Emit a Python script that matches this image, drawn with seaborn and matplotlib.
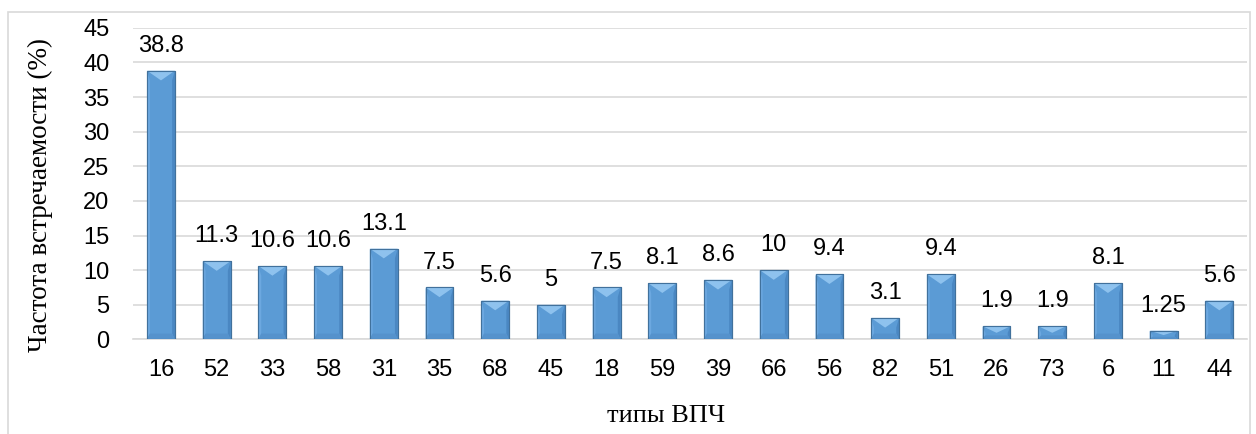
import matplotlib
matplotlib.use("Agg")
import matplotlib.pyplot as plt
import matplotlib.patches as mpatches
import numpy as np
import pandas as pd
import seaborn as sns

hpv_types = ["16", "52", "33", "58", "31", "35", "68", "45", "18", "59",
             "39", "66", "56", "82", "51", "26", "73", "6", "11", "44"]
frequency = [38.8, 11.3, 10.6, 10.6, 13.1, 7.5, 5.6, 5, 7.5, 8.1,
             8.6, 10, 9.4, 3.1, 9.4, 1.9, 1.9, 8.1, 1.25, 5.6]
value_labels = ["38.8", "11.3", "10.6", "10.6", "13.1", "7.5", "5.6", "5", "7.5", "8.1",
                "8.6", "10", "9.4", "3.1", "9.4", "1.9", "1.9", "8.1", "1.25", "5.6"]

df = pd.DataFrame({"type": hpv_types, "freq": frequency})

sns.set_theme(style="white")
plt.rcParams["font.family"] = ["Liberation Sans", "DejaVu Sans"]

fig = plt.figure(figsize=(12.56, 4.34), dpi=100)
ax = fig.add_axes([0.106, 0.218, 0.887, 0.718])

sns.barplot(data=df, x="type", y="freq", color="#5B9BD5", width=0.5,
            edgecolor="#41719C", linewidth=0.8, saturation=1, ax=ax, zorder=3)

# bevelled look: lighter left side, darker right side, chevron-shaped top facet
for p in list(ax.patches):
    x0, y0 = p.get_x(), p.get_y()
    w, h = p.get_width(), p.get_height()
    bx = w * 0.10
    by = min(h * 0.5, 1.4)
    ax.add_patch(mpatches.Polygon([(x0, y0), (x0 + bx, y0 + by * 0.6), (x0 + bx, y0 + h - by), (x0, y0 + h)],
                                  closed=True, facecolor="#6CA8E0", edgecolor="none", zorder=4))
    ax.add_patch(mpatches.Polygon([(x0 + w, y0), (x0 + w - bx, y0 + by * 0.6), (x0 + w - bx, y0 + h - by), (x0 + w, y0 + h)],
                                  closed=True, facecolor="#4A87C2", edgecolor="none", zorder=4))
    ax.add_patch(mpatches.Polygon([(x0, y0), (x0 + w, y0), (x0 + w - bx, y0 + by * 0.6), (x0 + bx, y0 + by * 0.6)],
                                  closed=True, facecolor="#5592CC", edgecolor="none", zorder=4))
    ax.add_patch(mpatches.Polygon([(x0, y0 + h), (x0 + w, y0 + h), (x0 + w / 2, y0 + h - by)],
                                  closed=True, facecolor="#8EC2EE", edgecolor="none", zorder=4))
    ax.add_patch(mpatches.Rectangle((x0, y0), w, h, facecolor="none",
                                    edgecolor="#41719C", linewidth=0.8, zorder=5))

for i, (v, lab) in enumerate(zip(frequency, value_labels)):
    ax.annotate(lab, (i, v), xytext=(0, 10), textcoords="offset points",
                ha="center", va="bottom", fontsize=17, color="#000000")

ax.set_ylim(0, 45)
ax.set_yticks(np.arange(0, 46, 5))
ax.set_xlim(-0.5, len(hpv_types) - 0.5)
ax.yaxis.grid(True, color="#D9D9D9", linewidth=1.2, zorder=0)
ax.set_axisbelow(True)
for s in ["top", "right", "left"]:
    ax.spines[s].set_visible(False)
ax.spines["bottom"].set_color("#D9D9D9")
ax.spines["bottom"].set_linewidth(1.2)
ax.tick_params(axis="both", length=0, labelsize=17, colors="#000000")
ax.tick_params(axis="x", pad=14)
ax.tick_params(axis="y", pad=17)

ax.set_xlabel("")
ax.set_ylabel("")
fig.text(0.032, 0.55, "Частота встречаемости (%)", rotation=90, ha="center", va="center",
         fontsize=19.5, family=["Liberation Serif", "DejaVu Serif"], color="#000000")
fig.text(0.53, 0.042, "типы ВПЧ", ha="center", va="center",
         fontsize=19, family=["Liberation Serif", "DejaVu Serif"], color="#000000")

# chart frame
frame = mpatches.Rectangle((0.0065, -0.1), 0.9885, 1.072, transform=fig.transFigure,
                           fill=False, edgecolor="#D9D9D9", linewidth=1.2)
fig.add_artist(frame)

fig.savefig("out.png", dpi=100, facecolor="white")
